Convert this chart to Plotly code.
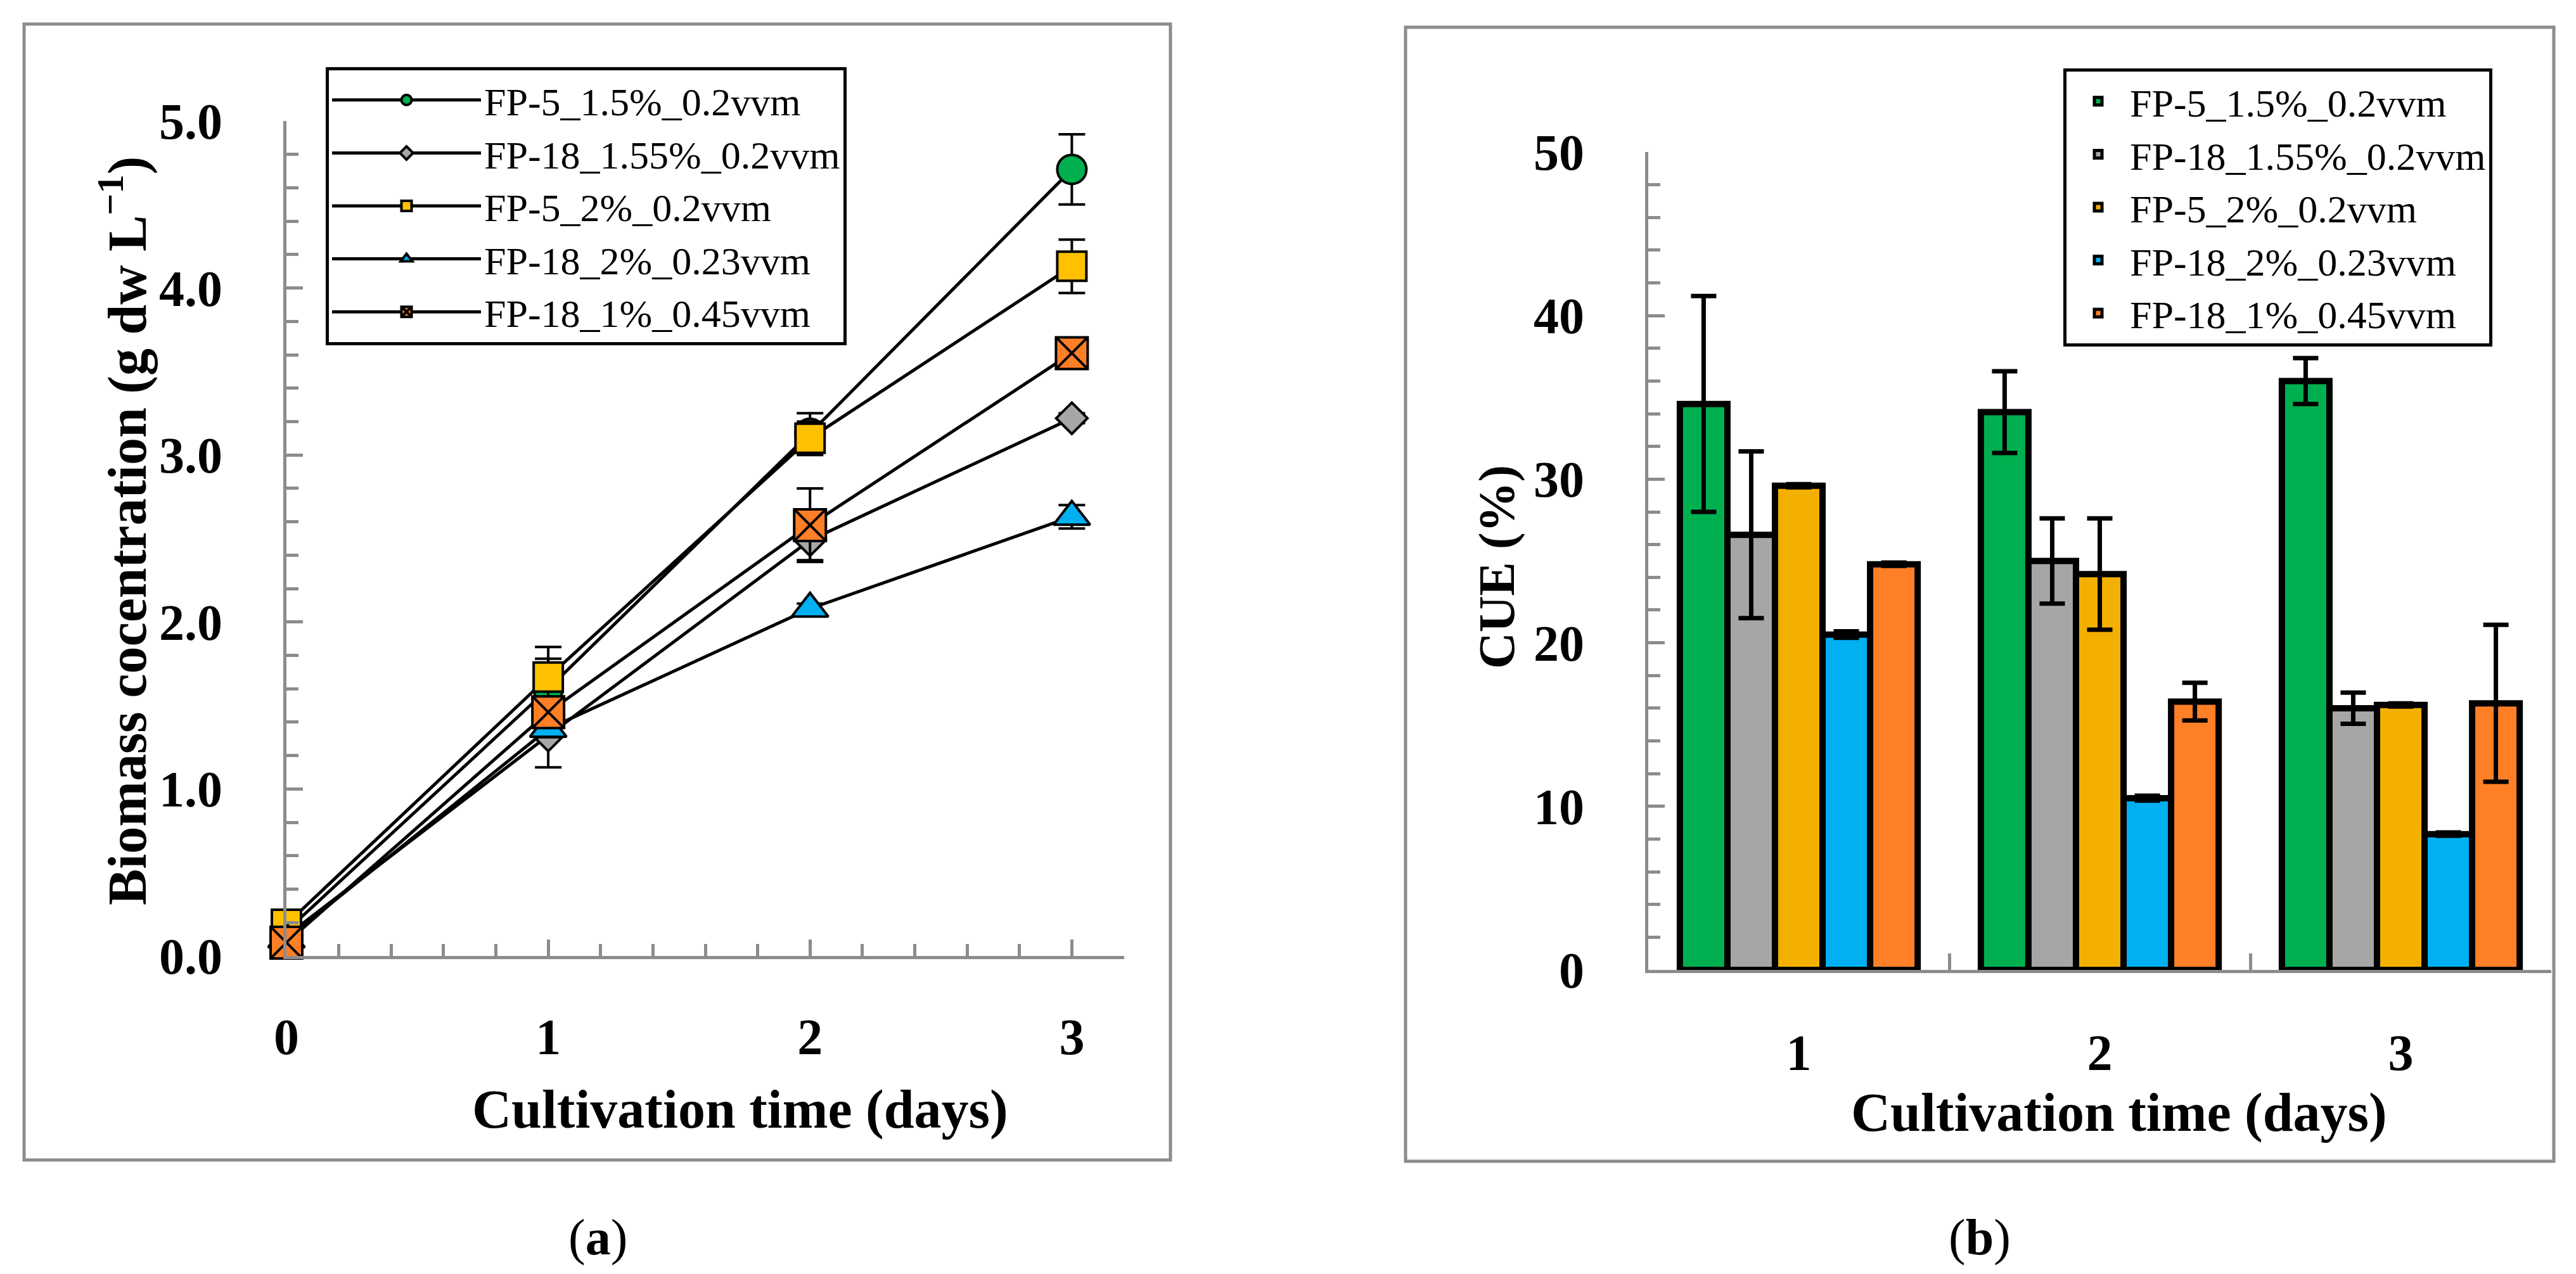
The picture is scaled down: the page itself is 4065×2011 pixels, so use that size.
import plotly.graph_objects as go

# ---- data ----
series_names = ['FP-5_1.5%_0.2vvm', 'FP-18_1.55%_0.2vvm', 'FP-5_2%_0.2vvm',
                'FP-18_2%_0.23vvm', 'FP-18_1%_0.45vvm']

days = [0, 1, 2, 3]
biomass_fp5_15 = [0.15, 1.60, 3.13, 4.71]
biomass_fp18_155 = [0.12, 1.32, 2.49, 3.22]
biomass_fp5_2 = [0.19, 1.67, 3.10, 4.13]
biomass_fp18_2 = [0.10, 1.36, 2.08, 2.63]
biomass_fp18_1 = [0.08, 1.46, 2.58, 3.61]

biomass_err_fp5_15 = [0.02, 0.18, 0.12, 0.21]
biomass_err_fp18_155 = [0.02, 0.19, 0.12, 0.03]
biomass_err_fp5_2 = [0.02, 0.18, 0.10, 0.16]
biomass_err_fp18_2 = [0.01, 0.05, 0.03, 0.07]
biomass_err_fp18_1 = [0.01, 0.08, 0.22, 0.03]

cue_days = ['1', '2', '3']
cue_fp5_15 = [34.6, 34.1, 36.0]
cue_fp18_155 = [26.6, 25.0, 16.0]
cue_fp5_2 = [29.6, 24.2, 16.2]
cue_fp18_2 = [20.5, 10.5, 8.3]
cue_fp18_1 = [24.8, 16.4, 16.3]

cue_err_fp5_15 = [6.6, 2.5, 1.4]
cue_err_fp18_155 = [5.1, 2.6, 0.95]
cue_err_fp5_2 = [0.1, 3.4, 0.1]
cue_err_fp18_2 = [0.2, 0.15, 0.1]
cue_err_fp18_1 = [0.1, 1.15, 4.8]

line_colors = ['#00B050', '#A6A6A6', '#FFC000', '#00B0F0', '#FF7F27']
bar_colors = ['#00B050', '#A6A6A6', '#F4B000', '#00B0F0', '#FF7F27']
symbols = ['circle', 'diamond', 'square', 'triangle-up', 'square-x']
sizes = [46, 38, 46, 50, 50]

FONT = 'Liberation Serif'
AXIS_GRAY = '#8c8c8c'
W, H = 4065, 2011
OFF = 8  # the page body margin pushes the figure 8 px right and down


def px_x(v):
    return (v - OFF) / W


def px_y(v):
    return 1 - (v - OFF) / H


biomass = [biomass_fp5_15, biomass_fp18_155, biomass_fp5_2, biomass_fp18_2, biomass_fp18_1]
biomass_err = [biomass_err_fp5_15, biomass_err_fp18_155, biomass_err_fp5_2,
               biomass_err_fp18_2, biomass_err_fp18_1]
cue = [cue_fp5_15, cue_fp18_155, cue_fp5_2, cue_fp18_2, cue_fp18_1]
cue_err = [cue_err_fp5_15, cue_err_fp18_155, cue_err_fp5_2, cue_err_fp18_2, cue_err_fp18_1]

fig = go.Figure()

# (a) biomass lines
for i in range(5):
    fig.add_trace(go.Scatter(
        x=days, y=biomass[i], name=series_names[i],
        mode='lines+markers', xaxis='x', yaxis='y', legend='legend',
        cliponaxis=False,
        line=dict(color='black', width=5),
        marker=dict(symbol=symbols[i], size=sizes[i], color=line_colors[i],
                    line=dict(color='black', width=4)),
        error_y=dict(type='data', array=biomass_err[i], color='black',
                     thickness=4, width=21),
    ))

# (b) CUE bars
for i in range(5):
    fig.add_trace(go.Bar(
        x=cue_days, y=cue[i], name=series_names[i],
        xaxis='x2', yaxis='y2', legend='legend2',
        marker=dict(color=bar_colors[i], line=dict(color='black', width=10)),
        error_y=dict(type='data', array=cue_err[i], color='black',
                     thickness=7, width=20),
    ))

tick_font = dict(family=FONT, size=80, color='black', weight='bold')
axis_common = dict(showline=True, linecolor=AXIS_GRAY, linewidth=5, showgrid=False,
                   zeroline=False, ticks='inside', tickcolor=AXIS_GRAY, tickwidth=5,
                   ticklen=26, tickfont=tick_font, automargin=False)
title_font = dict(family=FONT, size=86, color='black', weight='bold')
legend_font = dict(family=FONT, size=62, color='black')


def note(text, px, py, font, angle=0):
    return dict(text=text, xref='paper', yref='paper', x=px_x(px), y=px_y(py),
                xanchor='center', yanchor='middle', textangle=angle,
                showarrow=False, font=font)


fig.update_layout(
    width=W, height=H,
    margin=dict(l=0, r=0, t=0, b=0, pad=0, autoexpand=False),
    paper_bgcolor='white', plot_bgcolor='white',
    barmode='group', bargap=0.21, bargroupgap=0,
    xaxis=dict(domain=[px_x(452), px_x(1774)], range=[0, 3.2], dtick=1, anchor='y',
               ticklabelstandoff=54,
               minor=dict(ticks='inside', ticklen=19, dtick=0.2, tickcolor=AXIS_GRAY,
                          tickwidth=5),
               **axis_common),
    yaxis=dict(domain=[px_y(1509), px_y(191)], range=[0, 5], dtick=1,
               tickformat='.1f', anchor='x', ticklabelstandoff=80,
               minor=dict(ticks='inside', ticklen=19, dtick=0.2, tickcolor=AXIS_GRAY,
                          tickwidth=5),
               **axis_common),
    xaxis2=dict(domain=[px_x(2601), px_x(4026)], type='category', range=[-0.5, 2.5],
                tickson='boundaries', anchor='y2', ticklabelstandoff=57,
                **axis_common),
    yaxis2=dict(domain=[px_y(1531), px_y(240)], range=[0, 50], dtick=10,
                anchor='x2', ticklabelstandoff=80,
                minor=dict(ticks='inside', ticklen=19, dtick=2, tickcolor=AXIS_GRAY,
                           tickwidth=5),
                **axis_common),
    legend=dict(x=px_x(514), y=px_y(106), xanchor='left', yanchor='top',
                bordercolor='black', borderwidth=5, bgcolor='white',
                itemwidth=235, font=legend_font),
    legend2=dict(x=px_x(3256), y=px_y(108), xanchor='left', yanchor='top',
                 bordercolor='black', borderwidth=5, bgcolor='white',
                 itemwidth=90, font=legend_font),
    shapes=[
        dict(type='rect', xref='paper', yref='paper', x0=px_x(38), x1=px_x(1847),
             y0=px_y(1831), y1=px_y(38), line=dict(color=AXIS_GRAY, width=5),
             layer='below'),
        dict(type='rect', xref='paper', yref='paper', x0=px_x(2218), x1=px_x(4030),
             y0=px_y(1833), y1=px_y(43), line=dict(color=AXIS_GRAY, width=5),
             layer='below'),
    ],
    annotations=[
        note('Cultivation time (days)', 1168, 1751, title_font),
        note('Biomass cocentration (g dw L<sup>\u22121</sup>)', 194, 838, title_font, -90),
        note('Cultivation time (days)', 3344, 1756, title_font),
        note('CUE (%)', 2362, 895, dict(family=FONT, size=80, color='black',
                                        weight='bold'), -90),
        note('(<b>a</b>)', 943, 1953, dict(family=FONT, size=80, color='black')),
        note('(<b>b</b>)', 3124, 1953, dict(family=FONT, size=80, color='black')),
    ],
)

fig.write_html('out.html')
